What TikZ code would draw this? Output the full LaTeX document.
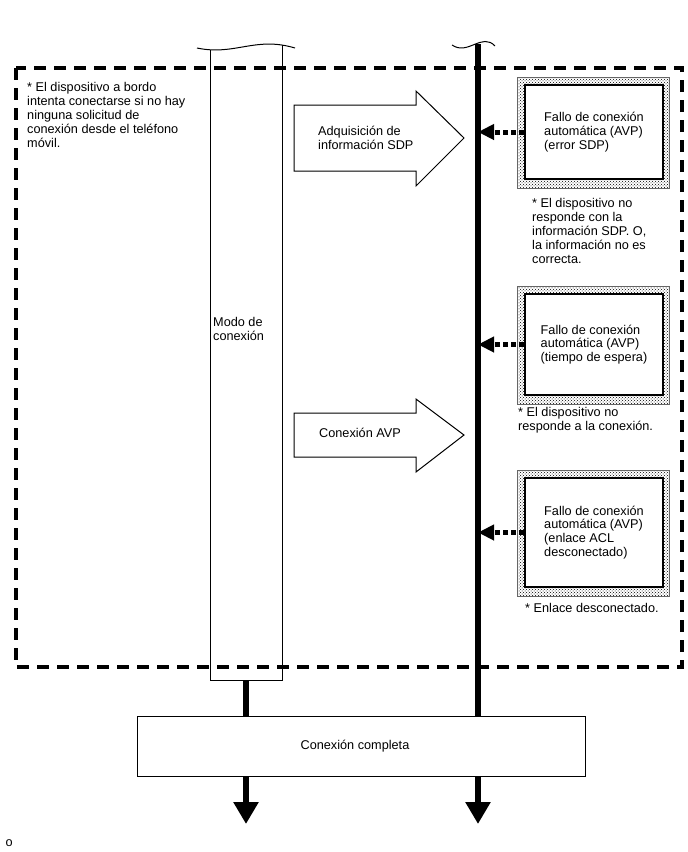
\documentclass[tikz,border=0pt]{standalone}
\usepackage{fontspec}
\setmainfont{Liberation Sans}
\usetikzlibrary{arrows.meta,patterns}

\tikzset{
  frame/.style={line width=4.5pt, dash pattern=on 12pt off 8pt},
  mainline/.style={line width=6.5pt},
  downarrow/.style={mainline, -{Triangle[length=22pt,width=24pt]}},
  dasharrow/.style={line width=5pt, dash pattern=on 5pt off 3pt, -{Triangle[length=16pt,width=15pt]}},
  blockarrow/.style={draw, fill=white, line width=1pt},
  fallo/.style={draw, fill=white, line width=2pt, minimum width=138pt, align=left},
  dotsframe/.style={pattern=crosshatch dots, pattern color=black, even odd rule}
}

\begin{document}
\begin{tikzpicture}[x=1pt,y=-1pt,
    every node/.style={font=\fontsize{12.7}{13.8}\selectfont, inner sep=0pt}]

      \useasboundingbox (0,0) rectangle (688,852);

      % dashed frame
      \draw[frame] (16,68) rectangle (682,667);

      % modo de conexion column with broken top
      \draw[line width=1pt] (210,49.8) -- (210,680) -- (282,680) -- (282,45.3);
      \draw[line width=1pt] (197,48) .. controls (235,56) and (255,36) .. (295,48);
      \draw[line width=1pt] (452,45) .. controls (468,56) and (482,32) .. (495,46);

      \coordinate (modo) at (246,680);
      \coordinate (lt)   at (478,44);
      \coordinate (lend) at (478,824);
      \coordinate (mend) at (246,824);

      \draw[downarrow] (lt) -- (lend);
      \draw[downarrow] (modo) -- (mend);

      % block arrows
      \draw[blockarrow] (294,105) -- (416,105) -- (416,91) -- (464,138)
        -- (416,186) -- (416,171) -- (294,171) -- cycle;
      \draw[blockarrow] (294,413) -- (416,413) -- (416,399) -- (464,435)
        -- (416,472) -- (416,457) -- (294,457) -- cycle;

      \node[draw, fill=white, line width=1pt, minimum width=448pt, minimum height=60pt]
        (comp) at (361,746) {Conexión completa\hspace*{12pt}};

      % failure boxes
      \node[fallo, minimum height=94pt]  (f1) at (594,132)
        {Fallo de conexión\\automática (AVP)\\(error SDP)};
      \node[fallo, minimum height=101pt] (f2) at (594,344.5)
        {Fallo de conexión\\automática (AVP)\\(tiempo de espera)};
      \node[fallo, minimum height=109pt] (f3) at (594,532.5)
        {Fallo de conexión\\automática (AVP)\\(enlace ACL\\desconectado)};

      \foreach \f in {f1,f2,f3} {
        \fill[dotsframe] ([shift={(-7,-7)}]\f.north west) rectangle ([shift={(5,8)}]\f.south east)
          (\f.north west) rectangle (\f.south east);
        \draw[black!60, line width=.4pt] ([shift={(-7,-7)}]\f.north west) rectangle ([shift={(5,8)}]\f.south east);
        \draw[dasharrow] (\f.west) -- (\f.west -| lt);
      }

      \begin{scope}[every node/.append style={anchor=north west, align=left}]
        \node (adq)   at (318,125.8) {Adquisición de\\información SDP};
        \node (modot) at (213,317.5) {Modo de\\conexión};
        \node (nota)  at (27,82.5)   {* El dispositivo a bordo\\intenta conectarse si no hay\\ninguna solicitud de\\conexión desde el teléfono\\móvil.};
        \node (nota1) at (532,198.5) {* El dispositivo no\\responde con la\\información SDP. O,\\la información no es\\correcta.};
        \node (nota2) at (518,406.8) {* El dispositivo no\\responde a la conexión.};
      \end{scope}

      \begin{scope}[every node/.append style={anchor=base west}]
        \node (avp)   at (319,437.5) {Conexión AVP};
        \node (nota3) at (525,612.5) {* Enlace desconectado.};
        \node (pie)   at (5.5,846.5) {o};
      \end{scope}

    \end{tikzpicture}
\end{document}
